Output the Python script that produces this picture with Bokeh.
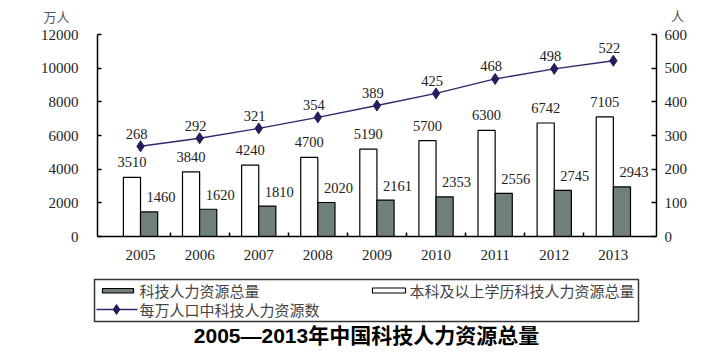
from bokeh.plotting import figure
from bokeh.models import (Range1d, LinearAxis, FixedTicker, ColumnDataSource)
from bokeh.layouts import column, row
from bokeh.embed import file_html
from bokeh.resources import INLINE
from bokeh.core.properties import value

# ---- data ----
years = ["2005", "2006", "2007", "2008", "2009", "2010", "2011", "2012", "2013"]
undergrad_total = [3510, 3840, 4240, 4700, 5190, 5700, 6300, 6742, 7105]   # 本科及以上学历科技人力资源总量 (万人)
hr_total = [1460, 1620, 1810, 2020, 2161, 2353, 2556, 2745, 2943]          # 科技人力资源总量 (万人)
per_10k = [268, 292, 321, 354, 389, 425, 468, 498, 522]                     # 每万人口中科技人力资源数 (人)
left_ticks = [0, 2000, 4000, 6000, 8000, 10000, 12000]
right_ticks = [0, 100, 200, 300, 400, 500, 600]

unit_labels = ["万人", "人"]
legend_labels = ["科技人力资源总量", "本科及以上学历科技人力资源总量", "每万人口中科技人力资源数"]
title_text = "2005\u20142013年中国科技人力资源总量"

SERIF = "Liberation Serif"
CJK = "Noto Sans CJK SC"
GRAY = "#6f807d"
NAVY = "#2c2a6c"
TOP_H = 26


def blank(h):
    f = figure(width=710, height=h, output_backend="svg", toolbar_location=None,
               x_range=Range1d(0, 710), y_range=Range1d(h, 0),
               min_border=0, min_border_left=0, min_border_right=0,
               min_border_top=0, min_border_bottom=0)
    f.axis.visible = False
    f.xgrid.grid_line_color = None
    f.ygrid.grid_line_color = None
    f.outline_line_color = None
    f.background_fill_color = "white"
    f.border_fill_color = "white"
    return f


# ---- top strip with unit labels ----
top = blank(TOP_H)
top.text(x=[56, 677], y=[15.5, 14.5], text=unit_labels, text_align="center", text_baseline="middle",
         text_font=value(CJK), text_font_size="13px", text_color="#555555")

idx = list(range(len(years)))
src = ColumnDataSource(dict(
    x=idx,
    xw=[i - 0.145 for i in idx],
    xg=[i + 0.145 for i in idx],
    ug=undergrad_total,
    hr=hr_total,
    pk=per_10k,
    ug_t=[str(v) for v in undergrad_total],
    hr_t=[str(v) for v in hr_total],
    pk_t=[str(v) for v in per_10k],
))

p = figure(width=710, height=270 - TOP_H, output_backend="svg", toolbar_location=None,
           x_range=Range1d(-0.728, 8.73), y_range=Range1d(0, 12000),
           min_border_left=97, min_border_right=54, min_border_top=34 - TOP_H, min_border_bottom=34)
p.background_fill_color = "white"
p.border_fill_color = "white"
p.outline_line_color = None
p.xgrid.grid_line_color = None
p.ygrid.grid_line_color = None
p.extra_y_ranges = {"right": Range1d(0, 600)}

# bars
p.vbar(x="xw", top="ug", width=0.29, bottom=0, source=src,
       fill_color="white", line_color="black", line_width=1.2)
p.vbar(x="xg", top="hr", width=0.29, bottom=0, source=src,
       fill_color=GRAY, line_color="black", line_width=1.2)

# line
p.line(x="x", y="pk", source=src, y_range_name="right", line_color=NAVY, line_width=1.4)
p.scatter(x="x", y="pk", source=src, y_range_name="right", marker="diamond",
          size=11, fill_color="#221f5c", line_color="#221f5c")

# value labels
p.text(x="xw", y="ug", text="ug_t", source=src, text_align="center", text_baseline="middle",
       y_offset=-15, text_font=value(SERIF), text_font_size="14.5px", text_color="#222222")
p.text(x="xg", y="hr", text="hr_t", source=src, text_align="center", text_baseline="middle",
       x_offset=12, y_offset=-14.5, text_font=value(SERIF), text_font_size="14.5px", text_color="#222222")
p.text(x="x", y="pk", text="pk_t", source=src, y_range_name="right", text_align="center",
       text_baseline="middle", x_offset=-4, y_offset=-12.5, text_font=value(SERIF),
       text_font_size="14.5px", text_color="#222222")

# x axis
xa = p.xaxis[0]
xa.ticker = FixedTicker(ticks=idx, minor_ticks=[i + 0.5 for i in idx[:-1]])
xa.major_label_overrides = {i: y for i, y in zip(idx, years)}
xa.major_tick_in = 0
xa.major_tick_out = 0
xa.minor_tick_in = 4
xa.minor_tick_out = 0
xa.minor_tick_line_color = "black"
xa.minor_tick_line_width = 1.5
xa.axis_line_color = "black"
xa.axis_line_width = 1.5
xa.major_label_standoff = 13
xa.major_label_text_font = SERIF
xa.major_label_text_font_size = "15px"
xa.major_label_text_color = "#222222"

# left axis
ya = p.yaxis[0]
ya.ticker = FixedTicker(ticks=left_ticks)
ya.major_tick_in = 4
ya.major_tick_out = 0
ya.minor_tick_line_color = None
ya.axis_line_width = 1.5
ya.major_tick_line_width = 1.5
ya.major_label_standoff = 19
ya.major_label_text_font = SERIF
ya.major_label_text_font_size = "15px"
ya.major_label_text_color = "#222222"

# right axis
ra = LinearAxis(y_range_name="right", ticker=FixedTicker(ticks=right_ticks))
ra.major_tick_in = 5
ra.major_tick_out = 0
ra.minor_tick_line_color = None
ra.axis_line_width = 1.5
ra.major_tick_line_width = 1.5
ra.major_label_standoff = 8
ra.major_label_text_font = SERIF
ra.major_label_text_font_size = "15px"
ra.major_label_text_color = "#222222"
p.add_layout(ra, "right")

# ---- legend + title panel ----
q = blank(84)
q.quad(left=[94], right=[638], top=[9], bottom=[51], fill_color="white",
       line_color="#333333", line_width=1.5)
q.quad(left=[102], right=[133], top=[18], bottom=[22.5], fill_color=GRAY, line_color="black", line_width=1.2)
q.quad(left=[372], right=[405], top=[17.5], bottom=[22.5], fill_color="white", line_color="black", line_width=1.2)
q.line(x=[96, 137], y=[39, 39], line_color=NAVY, line_width=1.3)
q.scatter(x=[116], y=[39], marker="diamond", size=10, fill_color="#221f5c", line_color="#221f5c")
q.text(x=[139, 409, 139], y=[20, 20, 39], text=legend_labels, text_align="left",
       text_baseline="middle", text_font=value(CJK), text_font_size="15px", text_color="#444444")
q.text(x=[366], y=[65], text=[title_text], text_align="center", text_baseline="middle",
       text_font=value("Liberation Sans, Noto Sans CJK SC"), text_font_style="bold",
       text_font_size="21px", text_color="black")

layout = column(row(top), p, row(q), spacing=0)
open("out.html", "w").write(file_html(layout, INLINE))
